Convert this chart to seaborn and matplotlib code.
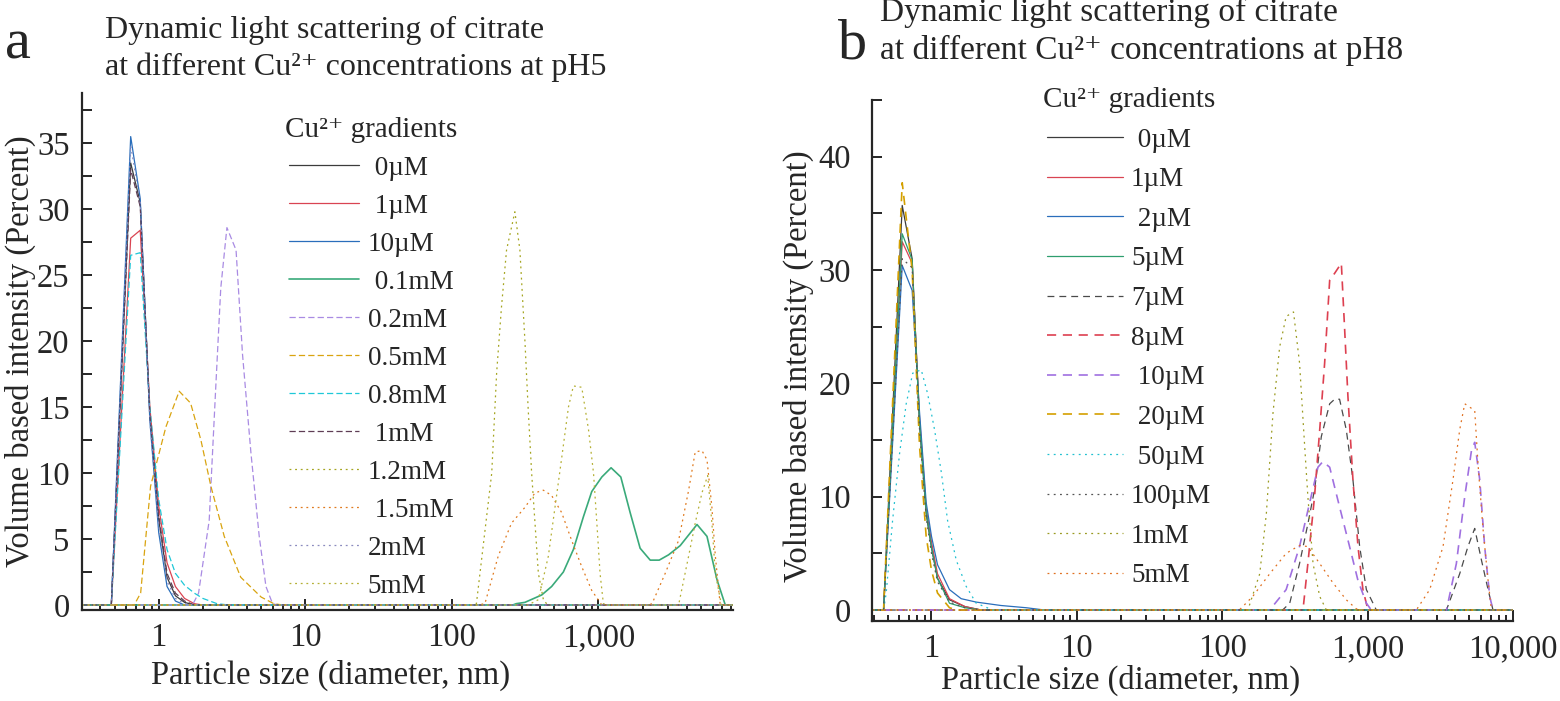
import matplotlib
matplotlib.use("Agg")
import matplotlib.pyplot as plt
import seaborn as sns
from matplotlib.ticker import FuncFormatter, LogLocator, MultipleLocator, NullFormatter

# ---------------- data ----------------
labels_a = [" 0µM", " 1µM", "10µM", " 0.1mM", "0.2mM", "0.5mM", "0.8mM", " 1mM", "1.2mM", " 1.5mM", "2mM", "5mM"]
sizes_a = [
    [0.3, 0.475, 0.644, 0.748, 0.87, 1.0, 1.14, 1.3, 1.5, 1.75, 10000],
    [0.3, 0.475, 0.644, 0.748, 0.87, 1.0, 1.14, 1.3, 1.5, 1.75, 2.0, 10000],
    [0.3, 0.475, 0.644, 0.748, 0.87, 1.0, 1.14, 1.3, 1.5, 10000],
    [0.3, 260, 275, 315, 410, 479, 576, 674, 790, 900, 1054, 1219, 1420, 1645, 1924, 2254, 2596, 3006, 3610, 4700, 5500, 6440, 7330, 10000],
    [0.3, 1.7, 1.87, 2.21, 2.45, 2.65, 2.92, 3.37, 3.73, 4.26, 4.85, 5.39, 5.98, 6.5, 10000],
    [0.3, 0.68, 0.753, 0.88, 1.12, 1.38, 1.65, 1.94, 2.27, 2.8, 3.63, 5.0, 6.1, 7.0, 10000],
    [0.3, 0.475, 0.644, 0.748, 0.87, 1.0, 1.14, 1.3, 1.5, 1.75, 2.0, 2.5, 3.0, 10000],
    [0.3, 0.475, 0.644, 0.748, 0.87, 1.0, 1.14, 1.3, 1.5, 1.75, 10000],
    [0.3, 135, 147, 187, 202, 218, 236, 269, 291, 315, 331, 350, 369, 389, 421, 450, 10000],
    [0.3, 150, 168, 207, 255, 315, 369, 421, 479, 561, 656, 769, 900, 1054, 2200, 2320, 2853, 3522, 4122, 4570, 5080, 5500, 5940, 6270, 6770, 10000],
    [0.3, 0.475, 0.644, 0.748, 0.87, 1.0, 1.14, 1.3, 1.5, 1.75, 10000],
    [0.3, 330, 389, 455, 505, 562, 624, 674, 769, 855, 925, 975, 1025, 1080, 1150, 3520, 4120, 4570, 5080, 5560, 5940, 6270, 6900, 10000],
]
pct_a = [
    [0, 0, 33.5, 30.5, 14.5, 6.5, 2.1, 0.7, 0.2, 0, 0],
    [0, 0, 27.8, 28.4, 15, 7.5, 3.2, 1.4, 0.5, 0.1, 0, 0],
    [0, 0, 35.5, 30.8, 14, 5.5, 1.4, 0.3, 0, 0],
    [0, 0, 0.1, 0.2, 0.76, 1.4, 2.5, 4.2, 6.7, 8.6, 9.7, 10.4, 9.7, 7, 4.3, 3.4, 3.4, 3.8, 4.5, 6.1, 5.2, 1.9, 0, 0],
    [0, 0, 0.9, 6.4, 16.5, 24, 28.6, 26.9, 19, 11.5, 5.2, 1.4, 0.1, 0, 0],
    [0, 0, 0.9, 9, 13.5, 16.2, 15.3, 12.5, 9, 5.2, 2.1, 0.6, 0.1, 0, 0],
    [0, 0, 26.5, 26.7, 15, 8, 4.2, 2.4, 1.5, 0.9, 0.5, 0.1, 0, 0],
    [0, 0, 33, 30.2, 14.5, 6.8, 2.4, 0.9, 0.3, 0, 0],
    [0, 0, 0.1, 10, 17.6, 22.6, 26.9, 29.8, 26.9, 20, 15, 10, 6.2, 2.4, 0.4, 0, 0],
    [0, 0, 0.1, 3.7, 6.2, 7.4, 8.5, 8.7, 8.3, 7, 4.9, 2.9, 1.1, 0, 0, 0.1, 2.4, 4.9, 8.7, 11.6, 11.7, 11, 7.4, 3.7, 0, 0],
    [0, 0, 34.8, 30.6, 14, 6, 1.8, 0.5, 0.1, 0, 0],
    [0, 0, 0.4, 3.7, 7.4, 11.2, 15, 16.6, 16.5, 13.3, 10, 6.2, 2.4, 0.1, 0, 0, 3.7, 6.2, 8.5, 9.8, 6.2, 2.4, 0, 0],
]

labels_b = [" 0µM", "1µM", " 2µM", "5µM", "7µM", "8µM", " 10µM", " 20µM", " 50µM", "100µM", "1mM", "5mM"]
sizes_b = [
    [0.35, 0.468, 0.629, 0.736, 0.827, 0.919, 1.0, 1.1, 1.33, 1.7, 2.2, 10000],
    [0.35, 0.468, 0.629, 0.736, 0.827, 0.919, 1.0, 1.1, 1.33, 1.7, 2.2, 10000],
    [0.35, 0.468, 0.629, 0.736, 0.827, 0.919, 1.0, 1.1, 1.33, 1.6, 2.03, 3.0, 4.5, 6.0, 10000],
    [0.35, 0.468, 0.629, 0.736, 0.827, 0.919, 1.0, 1.1, 1.33, 1.7, 2.2, 10000],
    [0.35, 260, 291, 340, 388, 431, 480, 548, 593, 641, 713, 792, 881, 980, 1147, 3483, 4296, 4896, 5450, 6064, 6735, 7280, 10000],
    [0.35, 359, 388, 431, 468, 506, 548, 592, 659, 695, 732, 792, 858, 928, 1005, 10000],
    [0.35, 212, 275, 340, 398, 455, 492, 548, 641, 751, 858, 980, 1060, 3483, 4075, 4652, 5180, 5450, 5900, 6380, 6910, 7280, 10000],
    [0.35, 0.468, 0.629, 0.736, 0.827, 0.919, 1.0, 1.1, 1.33, 1.5, 10000],
    [0.35, 0.468, 0.488, 0.54, 0.603, 0.67, 0.743, 0.85, 0.94, 1.05, 1.17, 1.29, 1.48, 1.73, 2.03, 2.64, 10000],
    [0.35, 0.468, 0.629, 0.736, 0.827, 0.919, 1.0, 1.1, 1.33, 1.7, 2.2, 10000],
    [0.35, 131, 150, 181, 201, 223, 248, 275, 309, 340, 369, 388, 421, 468, 520, 10000],
    [0.35, 131, 162, 212, 275, 340, 387, 468, 577, 713, 836, 900, 2161, 2672, 3300, 3864, 4296, 4652, 5450, 5740, 6220, 6735, 7100, 10000],
]
pct_b = [
    [0, 0, 35.7, 31, 16.5, 8.5, 5.5, 2.8, 0.9, 0.3, 0, 0],
    [0, 0, 32.5, 30.6, 17, 9, 6, 3.2, 1.0, 0.3, 0, 0],
    [0, 0, 30.4, 28.2, 17.5, 9.5, 6.5, 4, 1.8, 1.0, 0.7, 0.4, 0.2, 0, 0],
    [0, 0, 33.2, 30.9, 16.5, 8.7, 5.5, 2.8, 0.6, 0.2, 0, 0],
    [0, 0, 0.6, 4.1, 7.6, 10.6, 15.3, 18.2, 18.6, 18.6, 15.9, 11.5, 5.6, 1.8, 0, 0, 3.2, 5.6, 7.2, 4.4, 1.8, 0, 0],
    [0, 0, 4.1, 10, 15.9, 21.8, 29.1, 29.7, 30.6, 24.7, 18.8, 11.5, 5.6, 1.8, 0, 0],
    [0, 0, 1.8, 5.6, 9.4, 12.6, 13.1, 12.6, 9.1, 5.6, 2.6, 0.6, 0, 0, 4.1, 10, 14.1, 14.8, 11.5, 5.6, 1.2, 0, 0],
    [0, 0, 37.7, 30, 14.5, 6.5, 3.5, 1.5, 0.2, 0, 0],
    [0, 0, 1.5, 7.9, 13.8, 18.2, 20.9, 21.2, 19.1, 15.9, 12.1, 7.9, 4.4, 2.1, 0.6, 0, 0],
    [0, 0, 31, 30.2, 16, 8.2, 5, 2.5, 0.7, 0.2, 0, 0],
    [0, 0, 0, 3.2, 8.5, 17.3, 23.2, 25.9, 26.3, 21.8, 14.4, 10, 4.1, 1.2, 0, 0],
    [0, 0, 1.2, 3.2, 5, 5.7, 5.6, 4.1, 2.4, 0.9, 0.1, 0, 0, 1.8, 5.6, 11.5, 15.9, 18.2, 17.6, 12.9, 7.1, 2.6, 0, 0],
]

# ---------------- styles ----------------
SOLID = "-"
DASH_A = (0, (5, 2.5))
DOT_A = (0, (1.5, 3))
DASH_B = (0, (5.5, 4))
DOT_B = (0, (1.5, 3.5))

colors_a = ["#3c3c3c", "#d94452", "#2a6ebb", "#3aaa7a", "#a98be3", "#d9a410",
            "#1fc8d8", "#5e3d55", "#a5a520", "#e07a1f", "#8a8abf", "#b5b035"]
styles_a = [SOLID] * 4 + [DASH_A] * 4 + [DOT_A] * 4
widths_a = [0.9, 0.9, 0.9, 1.2] + [0.9] * 8

colors_b = ["#3c3c3c", "#d94452", "#2a6ebb", "#2e9e6e", "#4a4a4a", "#dd4050",
            "#a070e0", "#d4a000", "#20c0d0", "#555555", "#9a9a20", "#e07020"]
styles_b = [SOLID] * 4 + [DASH_B] * 4 + [DOT_B] * 4
widths_b = [0.9, 0.9, 0.9, 0.9, 0.9, 1.2, 1.2, 1.2, 0.9, 0.9, 0.9, 0.9]

sns.set_style("ticks")
plt.rcParams["font.family"] = ["Liberation Serif", "DejaVu Serif"]

fig = plt.figure(figsize=(15.6, 7.01), dpi=100)
ax_a = fig.add_axes([0.0526, 0.1298, 0.4174, 0.7375])
ax_b = fig.add_axes([0.559, 0.1141, 0.4109, 0.7432])

TICK_FS = 23.5


def draw_panel(ax, labels, sizes, pcts, colors, styles, widths, ypad):
    for lab, xs, ys, col, ls, lw in zip(labels, sizes, pcts, colors, styles, widths):
        sns.lineplot(x=xs, y=ys, ax=ax, color=col, linestyle=ls, linewidth=lw,
                     estimator=None, sort=False, label=lab)
    ax.set_xscale("log")
    ax.xaxis.set_major_locator(LogLocator(base=10, numticks=10))
    ax.xaxis.set_minor_locator(LogLocator(base=10, subs=range(2, 10), numticks=20))
    ax.xaxis.set_major_formatter(FuncFormatter(lambda v, p: f"{v:,.0f}"))
    ax.xaxis.set_minor_formatter(NullFormatter())
    for side in ["top", "right"]:
        ax.spines[side].set_visible(False)
    for side in ["left", "bottom"]:
        ax.spines[side].set_linewidth(1.6)
    ax.tick_params(axis="both", which="both", direction="in", width=1.2,
                   labelsize=TICK_FS, color="black")
    ax.tick_params(axis="x", which="major", length=8, pad=9)
    ax.tick_params(axis="x", which="minor", length=4.5)
    ax.tick_params(axis="y", which="both", length=7, pad=ypad)
    ax.set_xlabel("Particle size (diameter, nm)", fontsize=TICK_FS)
    ax.set_ylabel("Volume based intensity (Percent)", fontsize=TICK_FS)
    ax.grid(False)


draw_panel(ax_a, labels_a, sizes_a, pct_a, colors_a, styles_a, widths_a, 9)
ax_a.set_xlim(0.3, 8300)
ax_a.set_ylim(-0.38, 38.8)
ax_a.yaxis.set_major_locator(MultipleLocator(5))
ax_a.yaxis.set_minor_locator(MultipleLocator(2.5))
ax_a.xaxis.set_label_coords(0.382, -0.097)
ax_a.yaxis.set_label_coords(-0.071, 0.5)

draw_panel(ax_b, labels_b, sizes_b, pct_b, colors_b, styles_b, widths_b, 15)
ax_b.set_xlim(0.39, 10000)
ax_b.set_ylim(-0.97, 45)
ax_b.yaxis.set_major_locator(MultipleLocator(10))
ax_b.yaxis.set_minor_locator(MultipleLocator(5))
ax_b.xaxis.set_label_coords(0.388, -0.084)
ax_b.yaxis.set_label_coords(-0.09, 0.49)

leg_title = "Cu²⁺ gradients"
for ax, n, anchor, hl, sp in [(ax_a, len(labels_a), (0.1827, 0.8337), 2.6, 0.48),
                              (ax_b, len(labels_b), (0.6686, 0.876), 2.8, 0.54)]:
    handles = ax.get_lines()[:n]
    labs = [h.get_label() for h in handles]
    leg = ax.legend(handles, labs, loc="upper left", bbox_to_anchor=anchor,
                    bbox_transform=fig.transFigure, frameon=False, borderaxespad=0,
                    borderpad=0, fontsize=19.5, handlelength=hl, handletextpad=0.3,
                    labelspacing=sp, title=leg_title, title_fontsize=21)
    leg._legend_box.align = "center"

# panel letters and titles
fig.text(0.0032, 0.917, "a", fontsize=42, va="baseline", ha="left")
fig.text(0.0673, 0.9458, "Dynamic light scattering of citrate", fontsize=23, va="baseline")
fig.text(0.0673, 0.893, "at different Cu²⁺ concentrations at pH5", fontsize=23, va="baseline")
fig.text(0.537, 0.917, "b", fontsize=42, va="baseline", ha="left")
fig.text(0.5641, 0.970, "Dynamic light scattering of citrate", fontsize=24, va="baseline")
fig.text(0.5641, 0.9158, "at different Cu²⁺ concentrations at pH8", fontsize=24, va="baseline")

fig.savefig("out.png", dpi=100)
plt.close(fig)
